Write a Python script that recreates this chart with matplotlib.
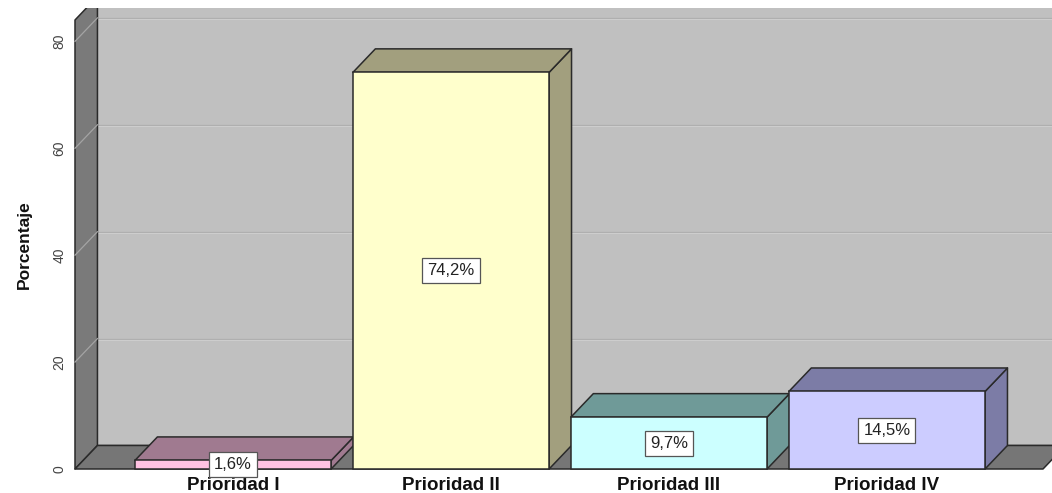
import matplotlib
matplotlib.use("Agg")
import matplotlib.pyplot as plt
from matplotlib.patches import Polygon, Rectangle

plt.rcParams['font.family'] = ['Liberation Sans', 'DejaVu Sans']

# Data
categories = ["Prioridad I", "Prioridad II", "Prioridad III", "Prioridad IV"]
percentages = [1.6, 74.2, 9.7, 14.5]
y_ticks = [0, 20, 40, 60, 80]

# Styling
front_colors = ["#FFC2E2", "#FFFFCC", "#CCFFFF", "#CCCCFF"]
shade_colors = ["#A07A90", "#A29F7E", "#6F9A98", "#7C7CA6"]
edge_color = "#2a2a2a"
wall_color = "#C0C0C0"
side_wall_color = "#7A7A7A"
floor_color = "#767676"

bar_w = 0.9
dx, dy = 0.103, 4.4          # depth offset of the 3D projection (data units)
x0, x1 = -0.725, 3.716       # extent of the front plane
top = 84.0

fig = plt.figure(figsize=(10.52, 4.93), dpi=100)
fig.patch.set_facecolor("white")
ax = fig.add_axes([75 / 1052, 24 / 493, 968 / 1052, 449 / 493])
ax.set_xlim(x0, x1)
ax.set_ylim(0, top)
ax.patch.set_visible(False)
for s in ax.spines.values():
    s.set_visible(False)


def poly(pts, fc, z, ec=edge_color, lw=1.1):
    p = Polygon(pts, closed=True, facecolor=fc, edgecolor=ec, linewidth=lw,
                zorder=z, clip_on=False, joinstyle="round")
    ax.add_patch(p)
    return p


# back wall
poly([(x0 + dx, dy), (x1 + dx + 0.2, dy), (x1 + dx + 0.2, top + dy),
      (x0 + dx, top + dy)], wall_color, 1, ec="none")
ax.plot([x0 + dx, x0 + dx], [dy, top + dy], color=edge_color, lw=1.1,
        zorder=1.5, clip_on=False)
ax.plot([x0 + dx, x1 + dx + 0.2], [dy, dy], color=edge_color, lw=1.0,
        zorder=1.5, clip_on=False)
# left wall
poly([(x0, 0), (x0 + dx, dy), (x0 + dx, top + dy), (x0, top)],
     side_wall_color, 2)
# floor
poly([(x0, 0), (x1, 0), (x1 + dx, dy), (x0 + dx, dy)], floor_color, 2)

# grid lines on the walls
for v in y_ticks[1:]:
    ax.plot([x0 + dx, x1 + dx + 0.2], [v + dy, v + dy], color="#AEAEAE",
            lw=0.9, zorder=1.2, clip_on=False)
    ax.plot([x0 + dx, x1 + dx + 0.2], [v + dy - 0.22, v + dy - 0.22],
            color="#CDCDCD", lw=0.8, zorder=1.2, clip_on=False)
    ax.plot([x0, x0 + dx], [v, v + dy], color="#A4A4A4", lw=0.9,
            zorder=2.5, clip_on=False)

# bars
for i, (v, fc, sc) in enumerate(zip(percentages, front_colors, shade_colors)):
    l, r = i - bar_w / 2, i + bar_w / 2
    poly([(r, 0), (r + dx, dy), (r + dx, v + dy), (r, v)], sc, 3)
    poly([(l, v), (r, v), (r + dx, v + dy), (l + dx, v + dy)], sc, 3)
    ax.add_patch(Rectangle((l, 0), bar_w, v, facecolor=fc, edgecolor=edge_color,
                           linewidth=1.1, zorder=4, clip_on=False))
    ax.text(i, v / 2, f"{v:.1f}%".replace(".", ","), ha="center", va="center",
            fontsize=12, color="#222222", zorder=6,
            bbox=dict(boxstyle="square,pad=0.3", facecolor="white",
                      edgecolor="#555555", linewidth=0.9))

# axes ticks and labels
ax.set_xticks(range(len(categories)))
ax.set_xticklabels(categories, fontsize=13.5, fontweight="bold", color="#111111")
ax.tick_params(axis="x", length=0, pad=5.5)
ax.set_yticks(y_ticks)
ax.set_yticklabels([str(t) for t in y_ticks], rotation=90, fontsize=10,
                   color="#444444", va="center")
ax.tick_params(axis="y", length=0, pad=6)
ax.set_ylabel("Porcentaje", fontsize=12.5, fontweight="bold", color="#111111")
ax.yaxis.set_label_coords(-0.045, 0.5)

# plain strip along the top edge
fig.patches.append(Rectangle((0, 1 - 8 / 493), 1, 8 / 493,
                             transform=fig.transFigure, facecolor="white",
                             edgecolor="none", zorder=10))

fig.savefig("out.png", dpi=100, facecolor="white")
